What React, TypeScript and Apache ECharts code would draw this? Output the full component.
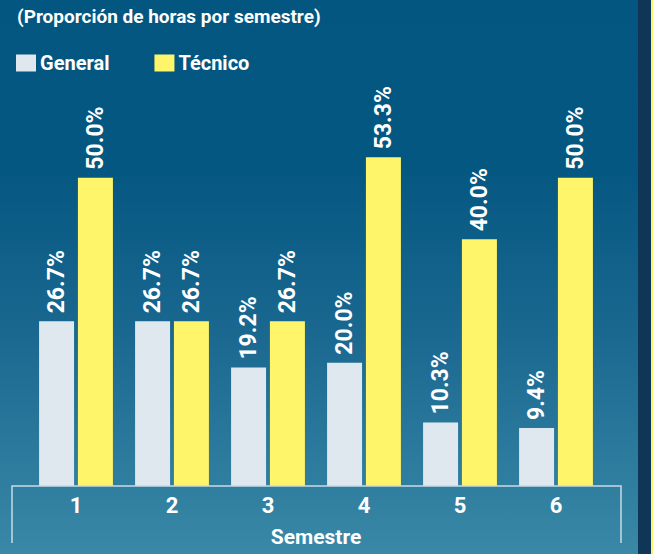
import React, { useEffect, useRef } from "react";
import * as echarts from "echarts";

const categories = ["1", "2", "3", "4", "5", "6"];
const generalValues = [26.7, 26.7, 19.2, 20.0, 10.3, 9.4];
const tecnicoValues = [50.0, 26.7, 26.7, 53.3, 40.0, 50.0];
const seriesNames = ["General", "Técnico"];
const titleText = "(Proporción de horas por semestre)";
const axisName = "Semestre";

const FONT = "Roboto";

export default function App() {
  const ref = useRef<HTMLDivElement>(null);
  useEffect(() => {
    document.body.style.margin = "0";
    const chart = echarts.init(ref.current!, null, { renderer: "svg" });
    const label = {
      show: true,
      position: "top",
      rotate: 90,
      align: "left",
      verticalAlign: "middle",
      distance: 8,
      color: "#ffffff",
      fontFamily: FONT,
      fontWeight: "bold",
      fontSize: 23,
      formatter: (p: any) => p.value.toFixed(1) + "%",
    };
    chart.setOption({
      animation: false,
      backgroundColor: "transparent",
      title: {
        text: titleText,
        left: 12,
        top: 0,
        textStyle: { color: "#ffffff", fontFamily: FONT, fontWeight: "bold", fontSize: 19, lineHeight: 22 },
      },
      legend: {
        left: 11,
        top: 48,
        icon: "rect",
        itemWidth: 20,
        itemHeight: 17,
        itemGap: 45,
        textStyle: { color: "#ffffff", fontFamily: FONT, fontWeight: "bold", fontSize: 20, lineHeight: 20, padding: [0, 0, 0, -1] },
        data: seriesNames,
      },
      grid: { left: 28, width: 576, top: 116, bottom: 68, outerBoundsMode: "none", containLabel: false },
      xAxis: {
        type: "category",
        data: categories,
        axisLine: { show: false },
        axisTick: { show: false },
        axisLabel: { color: "#ffffff", fontFamily: FONT, fontWeight: "bold", fontSize: 22, margin: 8 },
        name: axisName,
        nameLocation: "middle",
        nameGap: 40,
        nameTextStyle: { color: "#ffffff", fontFamily: FONT, fontWeight: "bold", fontSize: 21 },
      },
      yAxis: { type: "value", min: 0, max: 60, show: false, splitLine: { show: false } },
      series: [
        {
          name: seriesNames[0],
          type: "bar",
          data: generalValues,
          barWidth: 35,
          barGap: "11%",
          itemStyle: { color: "#dfe8ef" },
          label,
        },
        {
          name: seriesNames[1],
          type: "bar",
          data: tecnicoValues,
          barWidth: 35,
          barGap: "11%",
          itemStyle: { color: "#fff56b" },
          label,
        },
      ],
      graphic: [
        {
          type: "polyline",
          z: 10,
          shape: { points: [[12, 543], [12, 486], [621, 486], [621, 543]] },
          style: { stroke: "#c6dae4", lineWidth: 1.5, fill: null },
        },
        { type: "rect", shape: { x: 638, y: 0, width: 13, height: 554 }, style: { fill: "#0f3656" } },
        { type: "rect", shape: { x: 651, y: 0, width: 2, height: 554 }, style: { fill: "#fff36b" } },
      ],
    });
    return () => chart.dispose();
  }, []);
  return (
    <div
      ref={ref}
      style={{
        width: 653,
        height: 554,
        background: "linear-gradient(to bottom, #035680 0%, #045781 30%, #1a6890 60%, #3a88a6 100%)",
      }}
    />
  );
}
